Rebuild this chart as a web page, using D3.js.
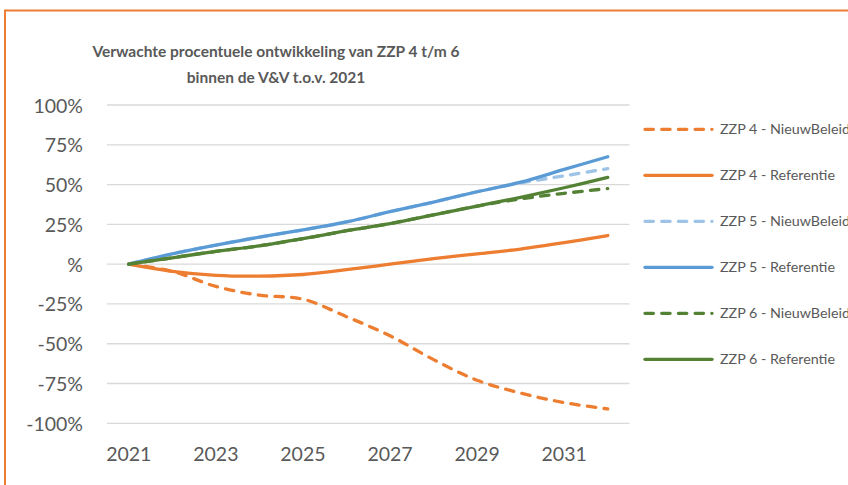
<!DOCTYPE html>
<html>
<head>
<meta charset="utf-8">
<script src="https://cdn.jsdelivr.net/npm/d3@7/dist/d3.min.js"></script>
<style>
  html, body { margin: 0; padding: 0; background: #fff; }
  svg { display: block; font-family: Lato, "Open Sans", sans-serif; }
</style>
</head>
<body>
<svg id="chart" width="848" height="485"></svg>
<script>
// Years on the category axis
const years = [2021, 2022, 2023, 2024, 2025, 2026, 2027, 2028, 2029, 2030, 2031, 2032];
// Labelled years (every other category)
const tickYears = [2021, 2023, 2025, 2027, 2029, 2031];
// Y axis ticks (fractions)
const yTicks = [1, 0.75, 0.5, 0.25, 0, -0.25, -0.5, -0.75, -1];

// Expected development relative to 2021, in percent
const zzp4Nieuw = [0, -4.5, -14, -19.5, -22, -33, -45, -60, -73, -81, -87, -91];
const zzp4Ref   = [0, -4.5, -7, -7.5, -6.5, -3.5, 0, 3.5, 6.5, 9.5, 13.5, 18];
const zzp5Nieuw = [0, 6.5, 12, 17, 21.5, 26.5, 33, 39, 45.5, 51, 55.5, 60];
const zzp5Ref   = [0, 6.5, 12, 17, 21.5, 26.5, 33, 39, 45.5, 51.5, 59.5, 67.5];
const zzp6Nieuw = [0, 4, 8, 11.5, 16, 21, 25.5, 31, 36.5, 41, 44.5, 47.5];
const zzp6Ref   = [0, 4, 8, 11.5, 16, 21, 25.5, 31, 36.5, 42, 48, 54.5];

const seriesNames = [
  "ZZP 4 - NieuwBeleid", "ZZP 4 - Referentie",
  "ZZP 5 - NieuwBeleid", "ZZP 5 - Referentie",
  "ZZP 6 - NieuwBeleid", "ZZP 6 - Referentie"
];
const seriesValues = [zzp4Nieuw, zzp4Ref, zzp5Nieuw, zzp5Ref, zzp6Nieuw, zzp6Ref];
const seriesColors = ["#ED7D31", "#ED7D31", "#9DC3E6", "#5B9BD5", "#548235", "#548235"];
const seriesDashed = [true, false, true, false, true, false];

const svg = d3.select("#chart");
const textColor = "#595959";

// Chart area frame
svg.append("rect")
  .attr("x", 5).attr("y", 10.5)
  .attr("width", 900).attr("height", 600)
  .attr("fill", "#fff")
  .attr("stroke", "#ED7D31")
  .attr("stroke-width", 2);

// Title
const title = svg.append("text")
  .attr("text-anchor", "middle")
  .attr("fill", textColor)
  .attr("font-weight", "bold")
  .attr("font-size", 15.5);
title.append("tspan").attr("x", 276).attr("y", 57)
  .text("Verwachte procentuele ontwikkeling van ZZP 4 t/m 6");
title.append("tspan").attr("x", 276).attr("y", 83)
  .text("binnen de V&V t.o.v. 2021");

// Scales
const x = d3.scaleBand().domain(years).range([107, 629.5]);
const y = d3.scaleLinear().domain([-1, 1]).range([423.3, 105]);
const cx = d => x(d) + x.bandwidth() / 2;

// Gridlines
svg.append("g")
  .selectAll("line")
  .data(yTicks)
  .join("line")
  .attr("x1", 107).attr("x2", 629.5)
  .attr("y1", d => y(d)).attr("y2", d => y(d))
  .attr("stroke", "#D9D9D9")
  .attr("stroke-width", 1.3);

// Y axis labels
const fmtPct = d => (d === 0 ? "%" : Math.round(d * 100) + "%");
const yAxis = svg.append("g")
  .attr("transform", "translate(83,0)")
  .call(d3.axisLeft(y).tickValues(yTicks).tickFormat(fmtPct).tickSize(0).tickPadding(0));
yAxis.select(".domain").remove();
yAxis.selectAll("text")
  .attr("fill", textColor)
  .attr("font-size", 19.5)
  .attr("font-family", "Lato, sans-serif")
  .attr("dy", "0.36em");

// X axis labels
const xAxis = svg.append("g")
  .attr("transform", "translate(0,441)")
  .call(d3.axisBottom(x).tickValues(tickYears).tickSize(0).tickPadding(0));
xAxis.select(".domain").remove();
xAxis.selectAll("text")
  .attr("fill", textColor)
  .attr("font-size", 19.5)
  .attr("font-family", "Lato, sans-serif")
  .attr("dy", "1em");

// Lines
const line = d3.line()
  .x((d, i) => cx(years[i]))
  .y(d => y(d / 100))
  .curve(d3.curveCatmullRom.alpha(0.5));

const lines = svg.append("g");
seriesValues.forEach((vals, k) => {
  lines.append("path")
    .datum(vals)
    .attr("d", line)
    .attr("fill", "none")
    .attr("stroke", seriesColors[k])
    .attr("stroke-width", 3.3)
    .attr("stroke-linecap", "round")
    .attr("stroke-linejoin", "round")
    .attr("stroke-dasharray", seriesDashed[k] ? "8.4 8.3" : null);
});

// Legend
const legend = svg.append("g");
seriesNames.forEach((name, k) => {
  const ly = 129.3 + k * 46;
  legend.append("line")
    .attr("x1", 645).attr("x2", 712)
    .attr("y1", ly).attr("y2", ly)
    .attr("stroke", seriesColors[k])
    .attr("stroke-width", 3.3)
    .attr("stroke-linecap", "round")
    .attr("stroke-dasharray", seriesDashed[k] ? "8.4 8.3" : null);
  legend.append("text")
    .attr("x", 720).attr("y", ly + 5)
    .attr("fill", textColor)
    .attr("font-size", 14.3)
    .text(name);
});
</script>
</body>
</html>
